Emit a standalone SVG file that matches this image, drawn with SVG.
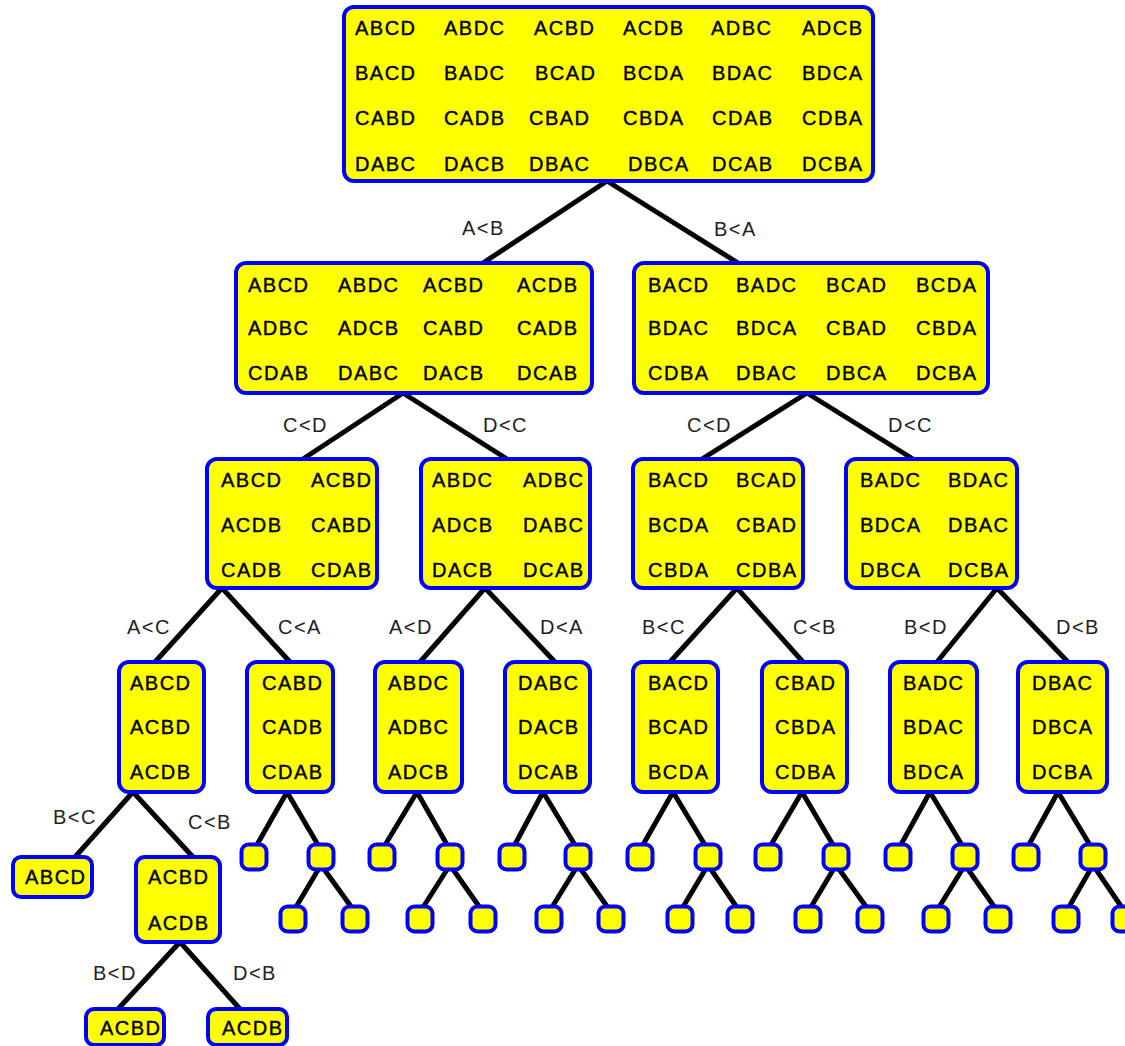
<svg xmlns="http://www.w3.org/2000/svg" width="1125" height="1046" viewBox="0 0 1125 1046">
<style>
.node rect{fill:#ffff00;stroke:#0000ff;stroke-width:4}
.node text{font-family:"Liberation Sans",Arial,sans-serif;font-size:20px;letter-spacing:1.5px;fill:#000;stroke:#000;stroke-width:0.4}
.edges line{stroke:#000;stroke-width:5;stroke-linecap:butt}
.lbl{font-family:"Liberation Sans",Arial,sans-serif;font-size:20px;letter-spacing:1.5px;fill:#222}
</style>
<rect width="1125" height="1046" fill="#fff"/>
<g id="connectors" class="edges">
<line x1="607" y1="181" x2="483" y2="263"/>
<line x1="607" y1="181" x2="738" y2="263"/>
<line x1="403" y1="393" x2="303" y2="459"/>
<line x1="403" y1="393" x2="507" y2="459"/>
<line x1="807" y1="393" x2="702" y2="459"/>
<line x1="807" y1="393" x2="913" y2="459"/>
<line x1="222" y1="588" x2="155" y2="662"/>
<line x1="222" y1="588" x2="290" y2="662"/>
<line x1="485" y1="588" x2="420" y2="662"/>
<line x1="485" y1="588" x2="555" y2="662"/>
<line x1="737" y1="588" x2="670" y2="662"/>
<line x1="737" y1="588" x2="803" y2="662"/>
<line x1="997" y1="588" x2="937" y2="662"/>
<line x1="997" y1="588" x2="1068" y2="662"/>
<line x1="133" y1="792" x2="75" y2="857"/>
<line x1="133" y1="792" x2="193" y2="857"/>
<line x1="180" y1="942" x2="118" y2="1009"/>
<line x1="180" y1="942" x2="240" y2="1009"/>
<line x1="287" y1="792" x2="254" y2="850"/><line x1="287" y1="792" x2="321" y2="850"/><line x1="321" y1="865" x2="293" y2="912"/><line x1="321" y1="865" x2="355" y2="912"/>
<line x1="417" y1="792" x2="382" y2="850"/><line x1="417" y1="792" x2="450" y2="850"/><line x1="450" y1="865" x2="420" y2="912"/><line x1="450" y1="865" x2="483" y2="912"/>
<line x1="543" y1="792" x2="512" y2="850"/><line x1="543" y1="792" x2="578" y2="850"/><line x1="578" y1="865" x2="549" y2="912"/><line x1="578" y1="865" x2="611" y2="912"/>
<line x1="673" y1="792" x2="640" y2="850"/><line x1="673" y1="792" x2="708" y2="850"/><line x1="708" y1="865" x2="680" y2="912"/><line x1="708" y1="865" x2="740" y2="912"/>
<line x1="802" y1="792" x2="768" y2="850"/><line x1="802" y1="792" x2="836" y2="850"/><line x1="836" y1="865" x2="808" y2="912"/><line x1="836" y1="865" x2="870" y2="912"/>
<line x1="930" y1="792" x2="898" y2="850"/><line x1="930" y1="792" x2="965" y2="850"/><line x1="965" y1="865" x2="936" y2="912"/><line x1="965" y1="865" x2="998" y2="912"/>
<line x1="1058" y1="792" x2="1026" y2="850"/><line x1="1058" y1="792" x2="1093" y2="850"/><line x1="1093" y1="865" x2="1066" y2="912"/><line x1="1093" y1="865" x2="1125" y2="912"/>
</g>
<g id="labels">
<text class="lbl" x="462" y="235">A&lt;B</text>
<text class="lbl" x="714" y="236">B&lt;A</text>
<text class="lbl" x="283" y="432">C&lt;D</text>
<text class="lbl" x="483" y="432">D&lt;C</text>
<text class="lbl" x="687" y="432">C&lt;D</text>
<text class="lbl" x="888" y="432">D&lt;C</text>
<text class="lbl" x="127" y="634">A&lt;C</text>
<text class="lbl" x="278" y="634">C&lt;A</text>
<text class="lbl" x="389" y="634">A&lt;D</text>
<text class="lbl" x="540" y="634">D&lt;A</text>
<text class="lbl" x="642" y="634">B&lt;C</text>
<text class="lbl" x="793" y="634">C&lt;B</text>
<text class="lbl" x="904" y="634">B&lt;D</text>
<text class="lbl" x="1056" y="634">D&lt;B</text>
<text class="lbl" x="53" y="824">B&lt;C</text>
<text class="lbl" x="188" y="829">C&lt;B</text>
<text class="lbl" x="93" y="980">B&lt;D</text>
<text class="lbl" x="233" y="980">D&lt;B</text>
</g>
<g id="n-root" class="node">
<rect x="344" y="7" width="529" height="174" rx="10"/>
<text x="355" y="35">ABCD</text><text x="444" y="35">ABDC</text><text x="534" y="35">ACBD</text><text x="623" y="35">ACDB</text><text x="711" y="35">ADBC</text><text x="802" y="35">ADCB</text>
<text x="355" y="80">BACD</text><text x="444" y="80">BADC</text><text x="535" y="80">BCAD</text><text x="623" y="80">BCDA</text><text x="712" y="80">BDAC</text><text x="802" y="80">BDCA</text>
<text x="355" y="125">CABD</text><text x="444" y="125">CADB</text><text x="529" y="125">CBAD</text><text x="623" y="125">CBDA</text><text x="712" y="125">CDAB</text><text x="802" y="125">CDBA</text>
<text x="355" y="171">DABC</text><text x="444" y="171">DACB</text><text x="529" y="171">DBAC</text><text x="628" y="171">DBCA</text><text x="712" y="171">DCAB</text><text x="802" y="171">DCBA</text>
</g>
<g id="n-AB" class="node">
<rect x="236" y="263" width="356" height="130" rx="10"/>
<text x="248" y="292">ABCD</text><text x="338" y="292">ABDC</text><text x="423" y="292">ACBD</text><text x="517" y="292">ACDB</text>
<text x="248" y="335">ADBC</text><text x="338" y="335">ADCB</text><text x="423" y="335">CABD</text><text x="517" y="335">CADB</text>
<text x="248" y="380">CDAB</text><text x="338" y="380">DABC</text><text x="423" y="380">DACB</text><text x="517" y="380">DCAB</text>
</g>
<g id="n-BA" class="node">
<rect x="634" y="263" width="354" height="130" rx="10"/>
<text x="648" y="292">BACD</text><text x="736" y="292">BADC</text><text x="826" y="292">BCAD</text><text x="916" y="292">BCDA</text>
<text x="648" y="335">BDAC</text><text x="736" y="335">BDCA</text><text x="826" y="335">CBAD</text><text x="916" y="335">CBDA</text>
<text x="648" y="380">CDBA</text><text x="736" y="380">DBAC</text><text x="826" y="380">DBCA</text><text x="916" y="380">DCBA</text>
</g>
<g id="n-AB-CD" class="node">
<rect x="207" y="459" width="170" height="129" rx="10"/>
<text x="221" y="487">ABCD</text><text x="311" y="487">ACBD</text>
<text x="221" y="532">ACDB</text><text x="311" y="532">CABD</text>
<text x="221" y="577">CADB</text><text x="311" y="577">CDAB</text>
</g>
<g id="n-AB-DC" class="node">
<rect x="421" y="459" width="169" height="129" rx="10"/>
<text x="432" y="487">ABDC</text><text x="523" y="487">ADBC</text>
<text x="432" y="532">ADCB</text><text x="523" y="532">DABC</text>
<text x="432" y="577">DACB</text><text x="523" y="577">DCAB</text>
</g>
<g id="n-BA-CD" class="node">
<rect x="633" y="459" width="170" height="129" rx="10"/>
<text x="648" y="487">BACD</text><text x="736" y="487">BCAD</text>
<text x="648" y="532">BCDA</text><text x="736" y="532">CBAD</text>
<text x="648" y="577">CBDA</text><text x="736" y="577">CDBA</text>
</g>
<g id="n-BA-DC" class="node">
<rect x="846" y="459" width="171" height="129" rx="10"/>
<text x="860" y="487">BADC</text><text x="948" y="487">BDAC</text>
<text x="860" y="532">BDCA</text><text x="948" y="532">DBAC</text>
<text x="860" y="577">DBCA</text><text x="948" y="577">DCBA</text>
</g>
<g id="n-AC" class="node"><rect x="119" y="662" width="85" height="130" rx="10"/>
<text x="130" y="690">ABCD</text><text x="130" y="734">ACBD</text><text x="130" y="779">ACDB</text></g>
<g id="n-CA" class="node"><rect x="247" y="662" width="86" height="130" rx="10"/>
<text x="262" y="690">CABD</text><text x="262" y="734">CADB</text><text x="262" y="779">CDAB</text></g>
<g id="n-AD" class="node"><rect x="375" y="662" width="87" height="130" rx="10"/>
<text x="388" y="690">ABDC</text><text x="388" y="734">ADBC</text><text x="388" y="779">ADCB</text></g>
<g id="n-DA" class="node"><rect x="505" y="662" width="85" height="130" rx="10"/>
<text x="518" y="690">DABC</text><text x="518" y="734">DACB</text><text x="518" y="779">DCAB</text></g>
<g id="n-BC" class="node"><rect x="633" y="662" width="85" height="130" rx="10"/>
<text x="648" y="690">BACD</text><text x="648" y="734">BCAD</text><text x="648" y="779">BCDA</text></g>
<g id="n-CB" class="node"><rect x="762" y="662" width="85" height="130" rx="10"/>
<text x="775" y="690">CBAD</text><text x="775" y="734">CBDA</text><text x="775" y="779">CDBA</text></g>
<g id="n-BD" class="node"><rect x="890" y="662" width="87" height="130" rx="10"/>
<text x="903" y="690">BADC</text><text x="903" y="734">BDAC</text><text x="903" y="779">BDCA</text></g>
<g id="n-DB" class="node"><rect x="1018" y="662" width="89" height="130" rx="10"/>
<text x="1032" y="690">DBAC</text><text x="1032" y="734">DBCA</text><text x="1032" y="779">DCBA</text></g>
<g id="n-leaf-ABCD" class="node"><rect x="13" y="857" width="79" height="40" rx="8"/>
<text x="25" y="884">ABCD</text></g>
<g id="n-AC-CB" class="node"><rect x="136" y="857" width="84" height="85" rx="9"/>
<text x="148" y="884">ACBD</text><text x="148" y="930">ACDB</text></g>
<g id="n-leaf-ACBD" class="node"><rect x="86" y="1009" width="78" height="36" rx="8"/>
<text x="100" y="1035">ACBD</text></g>
<g id="n-leaf-ACDB" class="node"><rect x="208" y="1009" width="79" height="36" rx="8"/>
<text x="222" y="1035">ACDB</text></g>
<g id="small-nodes" class="node">
<rect x="241.5" y="844.5" width="25" height="25" rx="7"/><rect x="308.5" y="844.5" width="25" height="25" rx="7"/><rect x="280.5" y="906.5" width="25" height="25" rx="7"/><rect x="342.5" y="906.5" width="25" height="25" rx="7"/>
<rect x="369.5" y="844.5" width="25" height="25" rx="7"/><rect x="437.5" y="844.5" width="25" height="25" rx="7"/><rect x="407.5" y="906.5" width="25" height="25" rx="7"/><rect x="470.5" y="906.5" width="25" height="25" rx="7"/>
<rect x="499.5" y="844.5" width="25" height="25" rx="7"/><rect x="565.5" y="844.5" width="25" height="25" rx="7"/><rect x="536.5" y="906.5" width="25" height="25" rx="7"/><rect x="598.5" y="906.5" width="25" height="25" rx="7"/>
<rect x="627.5" y="844.5" width="25" height="25" rx="7"/><rect x="695.5" y="844.5" width="25" height="25" rx="7"/><rect x="667.5" y="906.5" width="25" height="25" rx="7"/><rect x="727.5" y="906.5" width="25" height="25" rx="7"/>
<rect x="755.5" y="844.5" width="25" height="25" rx="7"/><rect x="823.5" y="844.5" width="25" height="25" rx="7"/><rect x="795.5" y="906.5" width="25" height="25" rx="7"/><rect x="857.5" y="906.5" width="25" height="25" rx="7"/>
<rect x="885.5" y="844.5" width="25" height="25" rx="7"/><rect x="952.5" y="844.5" width="25" height="25" rx="7"/><rect x="923.5" y="906.5" width="25" height="25" rx="7"/><rect x="985.5" y="906.5" width="25" height="25" rx="7"/>
<rect x="1013.5" y="844.5" width="25" height="25" rx="7"/><rect x="1080.5" y="844.5" width="25" height="25" rx="7"/><rect x="1053.5" y="906.5" width="25" height="25" rx="7"/><rect x="1112.5" y="906.5" width="25" height="25" rx="7"/>
</g>
</svg>
